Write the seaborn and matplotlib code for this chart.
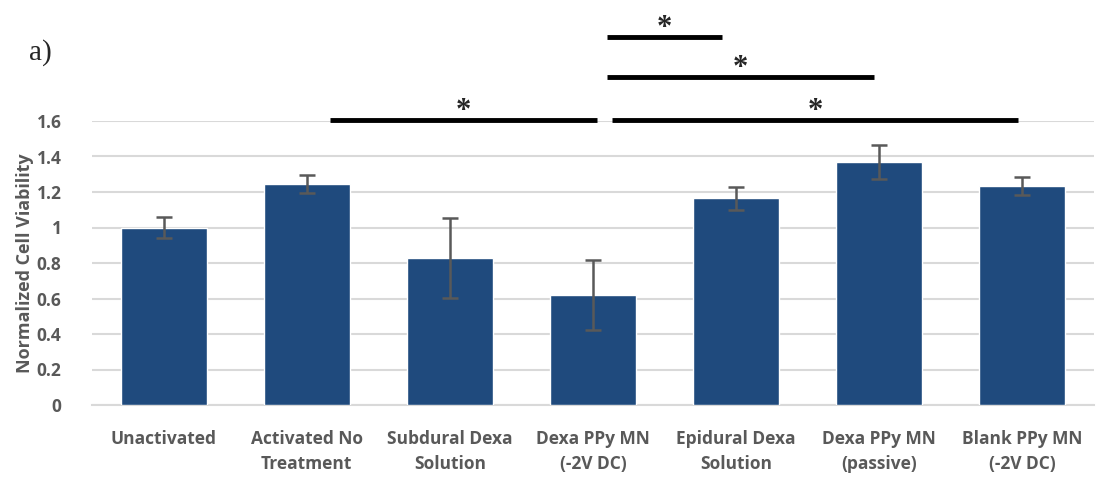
import numpy as np
import pandas as pd
import matplotlib
matplotlib.use("Agg")
import matplotlib.pyplot as plt
import seaborn as sns

# data
groups = ["Unactivated", "Activated No\nTreatment", "Subdural Dexa\nSolution",
          "Dexa PPy MN\n(-2V DC)", "Epidural Dexa\nSolution", "Dexa PPy MN\n(passive)",
          "Blank PPy MN\n(-2V DC)"]
viability = [1.00, 1.245, 0.83, 0.62, 1.165, 1.37, 1.235]
err = [0.06, 0.05, 0.225, 0.195, 0.065, 0.095, 0.05]

# significance brackets: (x start, x end, y)
sig_x0 = [1.16, 3.13, 3.10, 3.10]
sig_x1 = [3.03, 5.97, 4.96, 3.90]
sig_y = [1.605, 1.605, 1.85, 2.075]

sns.set_style("white")
plt.rcParams['font.family'] = ['Open Sans', 'DejaVu Sans']

df = pd.DataFrame({"group": groups, "viability": viability})

fig = plt.figure(figsize=(10.99, 4.78), dpi=100)
ax = fig.add_axes([92 / 1099, 73 / 478, 1002 / 1099, 284 / 478])

sns.barplot(data=df, x="group", y="viability", color="#1F4A7D", width=0.6,
            saturation=1, ax=ax, zorder=3)
ax.errorbar(np.arange(len(groups)), viability, yerr=err, fmt="none",
            ecolor="#595959", elinewidth=1.8, capsize=6, capthick=1.8, zorder=4)

ax.set_ylim(0, 1.6)
ax.set_xlim(-0.5, 6.5)
ax.set_yticks(np.arange(0, 1.61, 0.2))
ax.set_yticklabels(["0", "0.2", "0.4", "0.6", "0.8", "1", "1.2", "1.4", "1.6"])
ax.yaxis.grid(True, color="#d9d9d9", linewidth=1.5, zorder=0)
ax.set_axisbelow(True)
for s in ["top", "right", "left"]:
    ax.spines[s].set_visible(False)
ax.spines["bottom"].set_color("#d9d9d9")
ax.spines["bottom"].set_linewidth(1.5)
ax.tick_params(axis="both", length=0, colors="#595959", labelsize=12.5)
ax.tick_params(axis="y", pad=22)
ax.tick_params(axis="x", pad=18)
for lab in ax.get_xticklabels() + ax.get_yticklabels():
    lab.set_fontweight("bold")
    lab.set_linespacing(1.5)
ax.set_xlabel("")
ax.set_ylabel("Normalized Cell Viability", fontsize=13, fontweight="bold", color="#595959", labelpad=2)

# significance bars and stars
for x0, x1, y in zip(sig_x0, sig_x1, sig_y):
    ax.plot([x0, x1], [y, y], color="black", linewidth=3.5, clip_on=False, solid_capstyle="butt")
    ax.text((x0 + x1) / 2, y - 0.035, "*", ha="center", va="bottom", fontsize=22,
            family="Liberation Serif", fontweight="bold", clip_on=False)

fig.text(40 / 1099, 1 - 53 / 478, "a)", fontsize=21, family="Liberation Serif",
         ha="center", va="center")

fig.savefig("out.png", dpi=100)
